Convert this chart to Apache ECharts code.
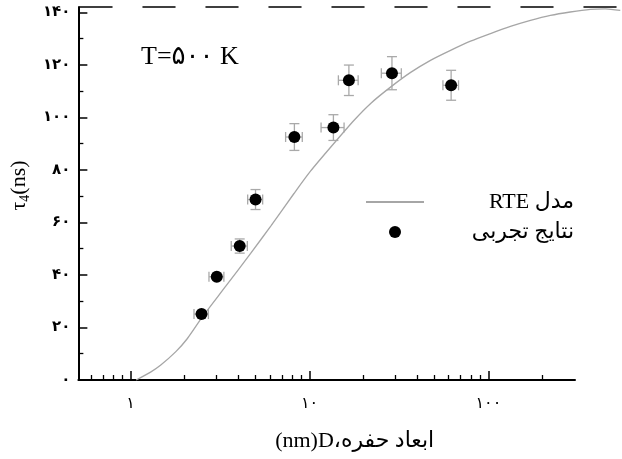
<!DOCTYPE html>
<html><head><meta charset="utf-8">
<script src="https://cdn.jsdelivr.net/npm/echarts@6/dist/echarts.min.js"></script>
<style>html,body{margin:0;padding:0;background:#fff}#c{width:622px;height:459px}</style>
</head><body><div id="c"></div>
<script>
// ---------- data ----------
const modelName = 'مدل RTE';
const expName = 'نتایج تجربی';
const xTitleWords = 'ابعاد حفره،';
const xTitleUnit = '(nm)D';
const annotation = 'T=۵۰۰ K';

const expD      = [2.49, 3.03, 4.07, 4.99, 8.23, 13.6, 16.6, 28.9, 61.9];
const expTau    = [25.1, 39.3, 51.0, 68.7, 92.5, 96.1, 114.1, 116.8, 112.2];
const expDErr   = [0.23, 0.29, 0.42, 0.48, 0.88, 2.0, 2.1, 3.7, 6.2];
const expTauErr = [0, 0, 2.7, 3.8, 5.1, 4.9, 5.8, 6.3, 5.7];

const modelD   = [1.14, 1.37, 1.56, 1.89, 2.19, 2.65, 3.57, 4.9, 6.33, 8.51, 10.5, 13.6, 18.3, 22.6, 29.1, 37.6, 48.4, 62.5, 80.6, 104, 134, 173, 223, 287, 371, 449, 543];
const modelTau = [0, 3.0, 5.7, 10.8, 15.8, 24.0, 35.7, 48.2, 58.6, 71.0, 79.5, 88.7, 98.9, 105.3, 111.5, 117.1, 121.7, 125.5, 129.0, 131.9, 134.6, 136.9, 138.8, 140.1, 141.1, 141.3, 140.7];

const xTickValues = [1, 10, 100];
const xTickLabels = ['۱', '۱۰', '۱۰۰'];
const xMinorTicks = [0.6, 0.7, 0.8, 0.9, 2, 3, 4, 5, 6, 7, 8, 9, 20, 30, 40, 50, 60, 70, 80, 90, 200];
const yTickValues = [0, 20, 40, 60, 80, 100, 120, 140];
const yTickLabels = ['۰', '۲۰', '۴۰', '۶۰', '۸۰', '۱۰۰', '۱۲۰', '۱۴۰'];
const yMinorTicks = [10, 30, 50, 70, 90, 110, 130];

const xMin = 0.51, xMax = 305, yMin = 0, yMax = 142;

// ---------- layout ----------
const W = 622, GL = 73, GT = 7, GW = 502, GH = 373, GR2 = 0;
const GW2 = W - GL - GR2;
// same px-per-decade on the wider (frame) grid
const xMax2 = xMin * Math.pow(10, Math.log10(xMax / xMin) * GW2 / GW);

// ---------- chart ----------
const SERIF = "'Liberation Serif','DejaVu Serif','DejaVu Sans',serif";
const chart = echarts.init(document.getElementById('c'), null, {renderer: 'canvas'});
const errStyle = {stroke: '#a9a9a9', lineWidth: 1.3};
const CAP = 5;

const option = {
  animation: false,
  backgroundColor: '#fff',
  title: {
    text: annotation, left: 136, top: 39,
    textStyle: {fontFamily: SERIF, fontWeight: 'normal', fontSize: 26, color: '#000'}
  },
  legend: {
    orient: 'vertical', left: 360, top: 186,
    itemWidth: 58, itemHeight: 12, itemGap: 8,
    selectedMode: false,
    data: [{name: modelName, itemStyle: {opacity: 0}}, {name: expName, icon: 'circle'}],
    formatter: n => '{t|\u202B' + n + '\u202C}',
    textStyle: {rich: {t: {width: 145, align: 'right', fontSize: 22, lineHeight: 22, fontFamily: SERIF, color: '#000'}}}
  },
  grid: [
    {left: GL, top: GT, width: GW, height: GH},
    {left: GL, top: GT, width: GW2, height: GH}
  ],
  xAxis: [
    {
      type: 'log', gridIndex: 0, min: xMin, max: xMax,
      name: xTitleUnit + xTitleWords + '\u200F', nameLocation: 'middle', nameGap: 50,
      nameTextStyle: {fontSize: 22, fontFamily: SERIF, color: '#000', padding: [0, 0, 0, 56]},
      axisLine: {show: true, onZero: false, lineStyle: {color: '#000', width: 2}},
      axisTick: {show: true, inside: true, length: 9, lineStyle: {color: '#000', width: 1.5}},
      axisLabel: {
        show: true, margin: 16, fontSize: 16, color: '#000', fontFamily: SERIF,
        showMinLabel: false, showMaxLabel: false,
        formatter: v => {
          const i = xTickValues.findIndex(t => Math.abs(Math.log10(t) - Math.log10(v)) < 1e-6);
          return i >= 0 ? xTickLabels[i] : '';
        }
      },
      splitLine: {show: false}
    },
    {
      type: 'value', gridIndex: 0, position: 'bottom',
      min: Math.log10(xMin), max: Math.log10(xMax),
      axisLine: {show: false, onZero: false}, axisLabel: {show: false}, splitLine: {show: false},
      axisTick: {show: true, inside: true, length: 5, lineStyle: {color: '#000', width: 1.3},
                 customValues: xMinorTicks.map(v => Math.log10(v))}
    },
    {
      type: 'log', gridIndex: 1, position: 'top', min: xMin, max: xMax2,
      axisLine: {show: true, onZero: false, lineStyle: {color: '#000', width: 1.5, type: [32, 31], dashOffset: 56}},
      axisTick: {show: false}, axisLabel: {show: false}, splitLine: {show: false}
    }
  ],
  yAxis: [
    {
      type: 'value', gridIndex: 0, min: yMin, max: yMax,
      name: '{a|τ}{s|4}{a|(ns)}', nameLocation: 'middle', nameGap: 37, nameRotate: 90,
      nameTextStyle: {padding: [0, 0, 0, 16], rich: {
        a: {fontSize: 22, fontFamily: SERIF, color: '#000', lineHeight: 26},
        s: {fontSize: 14, fontFamily: SERIF, color: '#000', verticalAlign: 'bottom', lineHeight: 26}
      }},
      axisLine: {show: true, onZero: false, lineStyle: {color: '#000', width: 2}},
      axisTick: {show: true, inside: true, length: 9, customValues: yTickValues, lineStyle: {color: '#000', width: 1.5}},
      axisLabel: {
        customValues: yTickValues, margin: 8, fontSize: 15, fontWeight: 'bold', color: '#000', fontFamily: SERIF,
        formatter: v => { const i = yTickValues.indexOf(v); return i >= 0 ? yTickLabels[i] : ''; }
      },
      splitLine: {show: false}
    },
    {
      type: 'value', gridIndex: 0, position: 'left', min: yMin, max: yMax,
      axisLine: {show: false, onZero: false}, axisLabel: {show: false}, splitLine: {show: false},
      axisTick: {show: true, inside: true, length: 5, customValues: yMinorTicks, lineStyle: {color: '#000', width: 1.3}}
    },
    {type: 'value', gridIndex: 1, min: yMin, max: yMax, show: false}
  ],
  series: [
    {
      type: 'custom', name: 'err', xAxisIndex: 0, yAxisIndex: 0, z: 2,
      data: expD.map((d, i) => [d, expTau[i], expDErr[i], expTauErr[i]]),
      renderItem: (params, api) => {
        const x = api.value(0), y = api.value(1), dx = api.value(2), dy = api.value(3);
        const c = api.coord([x, y]);
        const children = [];
        if (dx > 0) {
          const l = api.coord([x - dx, y]), r = api.coord([x + dx, y]);
          children.push({type: 'line', shape: {x1: l[0], y1: c[1], x2: r[0], y2: c[1]}, style: errStyle});
          children.push({type: 'line', shape: {x1: l[0], y1: c[1] - CAP, x2: l[0], y2: c[1] + CAP}, style: errStyle});
          children.push({type: 'line', shape: {x1: r[0], y1: c[1] - CAP, x2: r[0], y2: c[1] + CAP}, style: errStyle});
        }
        if (dy > 0) {
          const t = api.coord([x, y + dy]), b = api.coord([x, y - dy]);
          children.push({type: 'line', shape: {x1: c[0], y1: t[1], x2: c[0], y2: b[1]}, style: errStyle});
          children.push({type: 'line', shape: {x1: c[0] - CAP, y1: t[1], x2: c[0] + CAP, y2: t[1]}, style: errStyle});
          children.push({type: 'line', shape: {x1: c[0] - CAP, y1: b[1], x2: c[0] + CAP, y2: b[1]}, style: errStyle});
        }
        return {type: 'group', children};
      }
    },
    {
      type: 'line', name: modelName, xAxisIndex: 2, yAxisIndex: 2, z: 3,
      data: modelD.map((d, i) => [d, modelTau[i]]),
      showSymbol: false, symbol: 'none', smooth: 0.25, clip: false,
      lineStyle: {color: '#a6a6a6', width: 1.3}, itemStyle: {color: '#a6a6a6'}
    },
    {
      type: 'scatter', name: expName, xAxisIndex: 0, yAxisIndex: 0, z: 4,
      data: expD.map((d, i) => [d, expTau[i]]),
      symbol: 'circle', symbolSize: 12, itemStyle: {color: '#000', opacity: 1}
    }
  ]
};
chart.setOption(option);
</script>
</body></html>
